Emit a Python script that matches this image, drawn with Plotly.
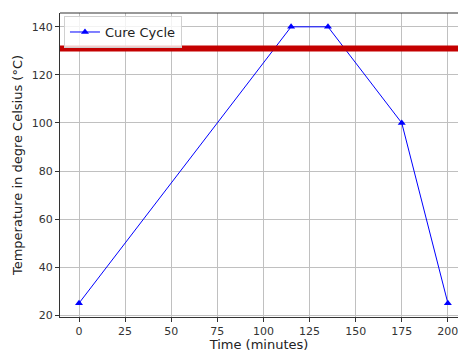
import plotly.graph_objects as go

time_min = [0, 115, 135, 175, 200]
temp_c = [25, 140, 140, 100, 25]
threshold = 131
x_ticks = [0, 25, 50, 75, 100, 125, 150, 175, 200]
y_ticks = [20, 40, 60, 80, 100, 120, 140]

fig = go.Figure()
fig.add_trace(go.Scatter(
    x=time_min, y=temp_c, mode="lines+markers", name="Cure Cycle",
    line=dict(color="#0000ff", width=1),
    marker=dict(symbol="triangle-up", size=7, color="#0000ff"),
    cliponaxis=False,
))
fig.add_shape(type="line", xref="paper", x0=0, x1=1, yref="y", y0=threshold, y1=threshold,
              line=dict(color="#c40000", width=6), layer="above")
# top frame
fig.add_shape(type="line", xref="paper", x0=0, x1=1, yref="paper", y0=1, y1=1,
              line=dict(color="#333333", width=1))

axis_common = dict(
    showgrid=True, gridcolor="#c0c0c0", gridwidth=1,
    showline=True, linecolor="#333333", linewidth=1,
    ticks="outside", ticklen=4, tickcolor="#333333",
    tickfont=dict(family="DejaVu Sans", size=11, color="#333333"),
    zeroline=False, automargin=False, ticklabeloverflow="allow",
)
fig.update_xaxes(range=[-10.3, 205.5], tickvals=x_ticks, **axis_common,
                 title=dict(text="Time (minutes)", font=dict(family="DejaVu Sans", size=13, color="#222"), standoff=1))
fig.update_yaxes(range=[19.25, 145.75], tickvals=y_ticks, **axis_common,
                 title=dict(text="Temperature in degre Celsius (°C)", font=dict(family="DejaVu Sans", size=13, color="#222"), standoff=6))

fig.update_layout(
    width=458, height=352,
    margin=dict(l=60, r=0, t=13, b=35),
    plot_bgcolor="white", paper_bgcolor="white",
    showlegend=True,
    legend=dict(x=0.01, y=0.99, xanchor="left", yanchor="top",
                bgcolor="rgba(255,255,255,0.8)", bordercolor="#d0d0d0", borderwidth=1,
                font=dict(family="DejaVu Sans", size=13, color="#222")),
)
fig.write_html("out.html", config={"displayModeBar": False},
               post_script="document.body.style.margin='0px';")
